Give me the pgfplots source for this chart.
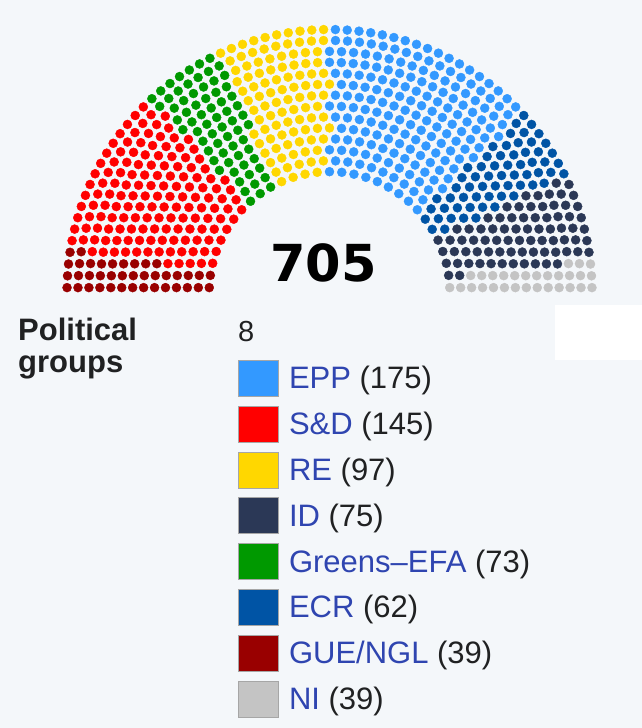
\documentclass[border=0pt]{standalone}
\usepackage{fontspec}
\setmainfont{Liberation Sans}
\newfontfamily\numfont{DejaVu Sans}
\usepackage{pgfplots}
\pgfplotsset{compat=1.18}

\definecolor{bgc}{HTML}{F4F7FA}
\definecolor{txt}{HTML}{202122}
\definecolor{link}{HTML}{2F45B0}
\definecolor{cGUE}{HTML}{990000}
\definecolor{cSD}{HTML}{FF0000}
\definecolor{cGRN}{HTML}{009900}
\definecolor{cRE}{HTML}{FFD700}
\definecolor{cEPP}{HTML}{3399FF}
\definecolor{cECR}{HTML}{0054A5}
\definecolor{cID}{HTML}{2B3856}
\definecolor{cNI}{HTML}{C4C4C4}

\def\gobbleone#1{}
\newcount\seatrank
\newcount\tmpa
\newcount\tmpb
\newcount\cumc

% Seats drawn in the hemicycle, from left to right:
% GUE/NGL, S&D, Greens-EFA, RE, EPP, ECR, ID, NI
\def\seatcounts{39,147,67,98,187,62,76,29}
% Seats in each ring, inner to outer (14 rings, 705 seats)
\def\ringseats{31,34,37,40,43,46,49,52,55,58,61,63,66,70}

% ring parameters: start angle and angular step (units of 1e-4 degree)
\foreach \J [count=\m] in \ringseats {%
  \expandafter\xdef\csname ringJ\m\endcsname{\J}%
  \expandafter\xdef\csname ringS\m\endcsname{\the\numexpr 916730/(40+4*\m)\relax}%
  \expandafter\xdef\csname ringT\m\endcsname{\the\numexpr (1800000-2*\csname ringS\m\endcsname)/(\J-1)\relax}%
}
\global\cumc=0
\foreach \c [count=\p] in \seatcounts {%
  \global\advance\cumc by \c\relax
  \expandafter\xdef\csname cum\p\endcsname{\the\cumc}%
  \expandafter\gdef\csname pts\p\endcsname{}%
}
% seats are filled by angle, from the left end to the right end
\foreach \m in {1,...,14} {%
  \edef\Jm{\csname ringJ\m\endcsname}%
  \edef\Sm{\csname ringS\m\endcsname}%
  \edef\Tm{\csname ringT\m\endcsname}%
  \pgfmathsetmacro\Rm{109.375+10.9375*\m}%
  \foreach \j in {1,...,\Jm} {%
    \edef\seatang{\the\numexpr\Sm+(\j-1)*\Tm\relax}%
    \global\seatrank=\numexpr\Jm-\j\relax
    \foreach \n in {1,...,14} {%
      \ifnum\n=\m\relax\else
        \tmpa=\numexpr\seatang-\csname ringS\n\endcsname\relax
        \ifnum\tmpa<0
          \global\advance\seatrank by \csname ringJ\n\endcsname\relax
        \else
          \tmpb=\numexpr(2*\tmpa-\csname ringT\n\endcsname)/(2*\csname ringT\n\endcsname)+1\relax
          \ifnum\tmpb>\csname ringJ\n\endcsname\relax \tmpb=\csname ringJ\n\endcsname\relax\fi
          \global\advance\seatrank by \numexpr\csname ringJ\n\endcsname-\tmpb\relax
        \fi
      \fi
    }%
    \xdef\party{8}%
    \foreach \p in {8,7,...,1} {%
      \ifnum\seatrank<\csname cum\p\endcsname\relax\xdef\party{\p}\fi
    }%
    \edef\angI{\the\numexpr(\seatang-5000)/10000\relax}%
    \edef\angF{\the\numexpr\seatang-\angI*10000+10000\relax}%
    \edef\ang{\angI.\expandafter\gobbleone\angF}%
    \pgfmathsetmacro\xx{329.5+\Rm*cos(\ang)}%
    \pgfmathsetmacro\yy{436+\Rm*sin(\ang)}%
    \expandafter\xdef\csname pts\party\endcsname{\csname pts\party\endcsname(\xx,\yy)}%
  }%
}

\newcommand\seatplot[2]{%
  \edef\tmpplot{\noexpand\addplot[only marks, mark=*, mark size=4.5pt, color=#2, forget plot] coordinates {\csname pts#1\endcsname};}%
  \tmpplot}

\begin{document}
\begin{tikzpicture}[x=1pt,y=1pt]
\fill[bgc] (0,0) rectangle (642,728);
\fill[white] (555,368) rectangle (642,423);
\begin{axis}[
  at={(0pt,0pt)}, anchor=south west,
  width=642pt, height=728pt, scale only axis,
  xmin=0, xmax=642, ymin=0, ymax=728,
  hide axis, clip=false,
  legend style={at={(0.37072,0.50549)}, anchor=north west, draw=none, fill=none,
     inner sep=0pt, outer sep=0pt, row sep=8.8pt, column sep=10pt,
     font=\fontsize{31}{36}\selectfont, text=txt, nodes={inner sep=0pt}},
  legend cell align=left,
  legend image code/.code={\draw[#1] (0pt,-18pt) rectangle (40pt,18pt);},
]
\seatplot{1}{cGUE}
\seatplot{2}{cSD}
\seatplot{3}{cGRN}
\seatplot{4}{cRE}
\seatplot{5}{cEPP}
\seatplot{6}{cECR}
\seatplot{7}{cID}
\seatplot{8}{cNI}
\addlegendimage{fill=cEPP, draw=black!35, line width=1pt}
\addlegendentry{\textcolor{link}{EPP} (175)}
\addlegendimage{fill=cSD, draw=black!35, line width=1pt}
\addlegendentry{\textcolor{link}{S\&D} (145)}
\addlegendimage{fill=cRE, draw=black!35, line width=1pt}
\addlegendentry{\textcolor{link}{RE} (97)}
\addlegendimage{fill=cID, draw=black!35, line width=1pt}
\addlegendentry{\textcolor{link}{ID} (75)}
\addlegendimage{fill=cGRN, draw=black!35, line width=1pt}
\addlegendentry{\textcolor{link}{Greens--EFA} (73)}
\addlegendimage{fill=cECR, draw=black!35, line width=1pt}
\addlegendentry{\textcolor{link}{ECR} (62)}
\addlegendimage{fill=cGUE, draw=black!35, line width=1pt}
\addlegendentry{\textcolor{link}{GUE/NGL} (39)}
\addlegendimage{fill=cNI, draw=black!35, line width=1pt}
\addlegendentry{\textcolor{link}{NI} (39)}
\end{axis}
\node[anchor=base, inner sep=0pt, font=\numfont\bfseries\fontsize{51}{51}\selectfont] at (323.5,446) {705};
\node[anchor=base west, inner sep=0pt, font=\bfseries\fontsize{31}{33}\selectfont, text=txt] at (18,387) {Political};
\node[anchor=base west, inner sep=0pt, font=\bfseries\fontsize{31}{33}\selectfont, text=txt] at (18,355) {groups};
\node[anchor=base west, inner sep=0pt, font=\fontsize{29}{33}\selectfont, text=txt] at (238,386) {8};
\pgfresetboundingbox
\path (0,0) rectangle (642,728);
\end{tikzpicture}
\end{document}
